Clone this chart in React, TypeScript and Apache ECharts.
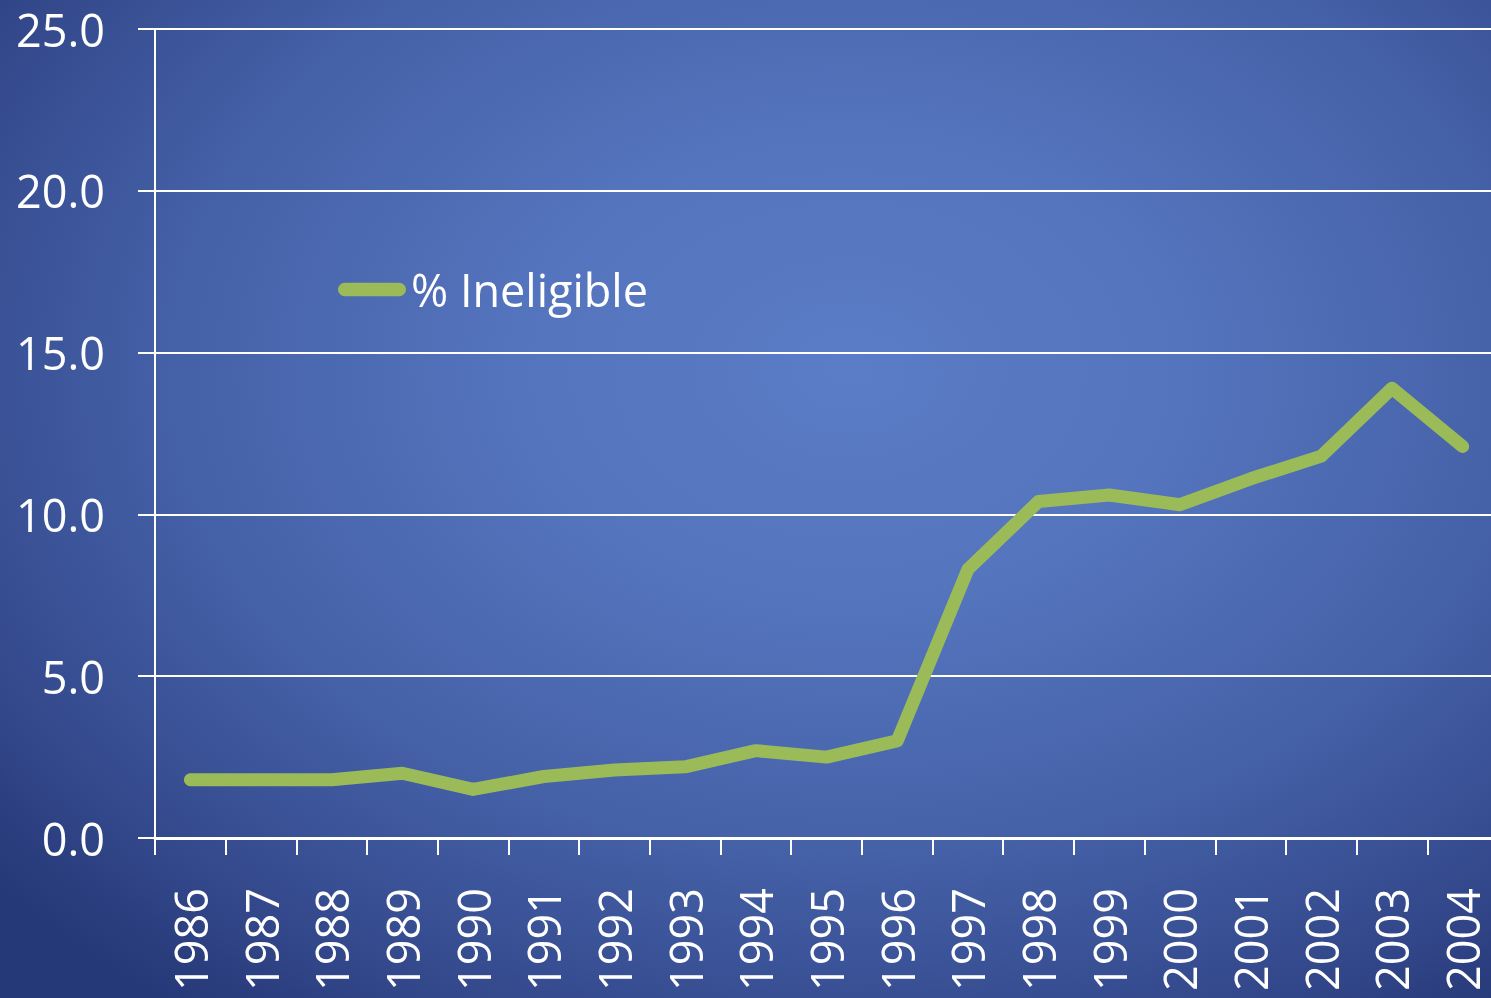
import React, { useEffect, useRef } from "react";
import * as echarts from "echarts";

const years = ["1986","1987","1988","1989","1990","1991","1992","1993","1994","1995","1996","1997","1998","1999","2000","2001","2002","2003","2004"];
const ineligible = [1.8, 1.8, 1.8, 2.0, 1.5, 1.9, 2.1, 2.2, 2.7, 2.5, 3.0, 8.3, 10.4, 10.6, 10.3, 11.1, 11.8, 13.9, 12.1];
const seriesName = "% Ineligible";

const FONT = "'Open Sans', 'Liberation Sans', sans-serif";

export default function App() {
  const ref = useRef<HTMLDivElement>(null);
  useEffect(() => {
    if (!ref.current) return;
    const chart = echarts.init(ref.current, undefined, { renderer: "svg" });
    chart.setOption({
      animation: false,
      backgroundColor: "transparent",
      grid: { left: 155, top: 29, width: 1343, bottom: 160, containLabel: false },
      legend: {
        show: true,
        left: 333,
        top: 262,
        itemWidth: 68,
        itemHeight: 14,
        icon: "path://M7,0 L63,0 A7,7 0 0 1 63,14 L7,14 A7,7 0 0 1 7,0 Z",
        textStyle: { color: "#ffffff", fontSize: 45, fontFamily: FONT },
        data: [seriesName],
      },
      xAxis: {
        type: "category",
        data: years,
        boundaryGap: true,
        axisLine: { show: true, lineStyle: { color: "#ffffff", width: 3 } },
        axisTick: { show: true, interval: 0, length: 17, lineStyle: { color: "#ffffff", width: 2 } },
        axisLabel: { interval: 0, rotate: 90, margin: 50, color: "#ffffff", fontSize: 45, fontFamily: FONT },
        splitLine: { show: false },
      },
      yAxis: {
        type: "value",
        min: 0,
        max: 25,
        interval: 5,
        axisLine: { show: true, lineStyle: { color: "#ffffff", width: 2 } },
        axisTick: { show: true, length: 17, lineStyle: { color: "#ffffff", width: 2 } },
        axisLabel: {
          margin: 50,
          color: "#ffffff",
          fontSize: 45,
          fontFamily: FONT,
          formatter: (v: number) => v.toFixed(1),
        },
        splitLine: { show: true, lineStyle: { color: "#ffffff", width: 2 } },
      },
      series: [
        {
          name: seriesName,
          type: "line",
          data: ineligible,
          showSymbol: false,
          symbol: "none",
          color: "#9bbb59",
          lineStyle: { color: "#9bbb59", width: 13, cap: "round", join: "round" },
        },
      ],
    });
    return () => chart.dispose();
  }, []);
  return (
    <div
      style={{
        position: "fixed",
        left: 0,
        top: 0,
        width: 1491,
        height: 998,
        overflow: "hidden",
        background:
          "radial-gradient(ellipse 75% 80% at 57% 37%, #5b7cc6 0%, #5474bd 30%, #4561a8 60%, #34498c 85%, #253877 100%)",
      }}
    >
      <div ref={ref} style={{ width: 1520, height: 998 }} />
    </div>
  );
}
